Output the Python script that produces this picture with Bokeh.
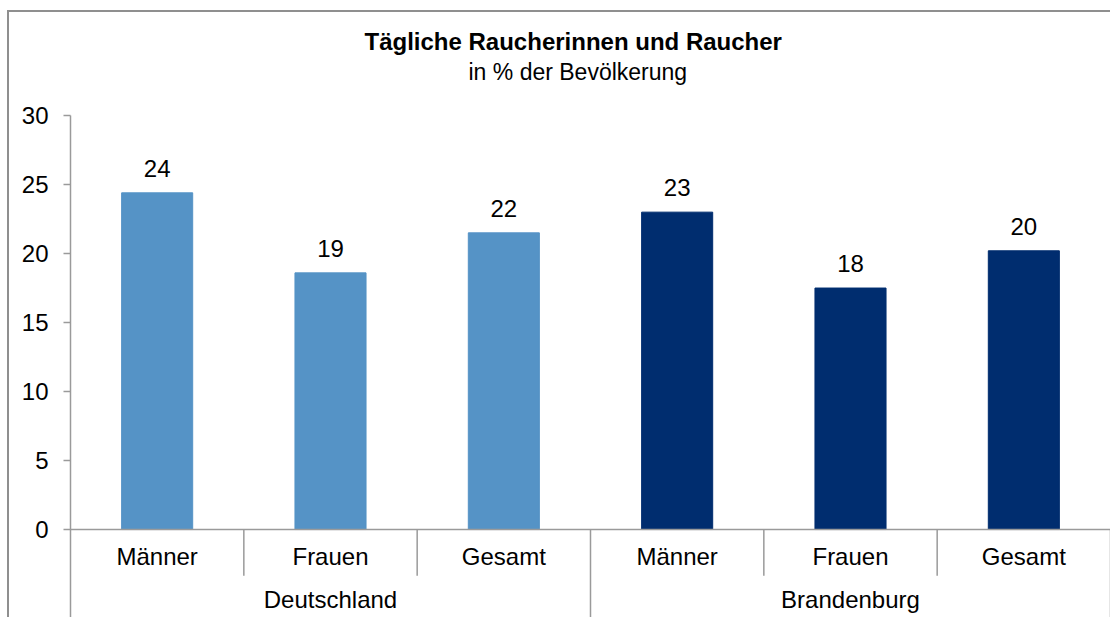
from bokeh.plotting import figure
from bokeh.models import FactorRange, Range1d, FixedTicker, ColumnDataSource, LabelSet, Title
from bokeh.core.properties import value
from bokeh.embed import file_html
from bokeh.resources import INLINE

# ---- data ----
regions = ["Deutschland", "Brandenburg"]
groups = ["Männer", "Frauen", "Gesamt"]
values_de = [24.4, 18.6, 21.5]
values_bb = [23.0, 17.5, 20.2]
labels_de = ["24", "19", "22"]
labels_bb = ["23", "18", "20"]
region_colors = ["#5593c6", "#002d6f"]
y_ticks = [0, 5, 10, 15, 20, 25, 30]
title_text = "Tägliche Raucherinnen und Raucher"
subtitle_text = "in % der Bevölkerung"

FONT = "Liberation Sans"
GRID = "#9a9a9a"
Y_BOTTOM = -6.52
Y_TOP = 32.25

factors = [(r, g) for r in regions for g in groups]
values = values_de + values_bb
labels = labels_de + labels_bb
colors = [region_colors[0]] * 3 + [region_colors[1]] * 3

src = ColumnDataSource(dict(x=factors, top=values, lab=labels, color=colors))

x_range = FactorRange(*factors, factor_padding=0, group_padding=0, range_padding=0)
y_range = Range1d(Y_BOTTOM, Y_TOP)

p = figure(width=1103, height=607, x_range=x_range, y_range=y_range,
           output_backend="svg", toolbar_location=None,
           min_border_left=61, min_border_right=2, min_border_bottom=0,
           min_border_top=72)
p.styles = {"margin-left": "7px", "margin-top": "10px",
            "border-top": "2px solid #8f8f8f", "border-left": "2px solid #8f8f8f"}
p.outline_line_color = None
p.xgrid.grid_line_color = None
p.ygrid.grid_line_color = None
p.background_fill_color = "white"
p.border_fill_color = "white"

# titles (first added is nearest the frame)
p.add_layout(Title(text=subtitle_text, align="left", offset=398, text_font=FONT,
                   text_font_size="23px", text_font_style="normal",
                   text_color="black", standoff=0), "above")
p.add_layout(Title(text=title_text, align="left", offset=294, text_font=FONT,
                   text_font_size="24px", text_font_style="bold",
                   text_color="black", standoff=4), "above")

p.vbar(x="x", top="top", bottom=0, width=0.41, color="color", source=src)

p.add_layout(LabelSet(x="x", y="top", text="lab", source=src, y_offset=16,
                      text_align="center", text_baseline="alphabetic",
                      text_font=value(FONT), text_font_size=value("24px"),
                      text_color="black"))

# separators of the category axis
short_x0 = [(r, g, 0.5) for r in regions for g in groups[:-1]]
long_x0 = [(r, groups[-1], 0.5) for r in regions]
p.segment(x0=short_x0, x1=short_x0, y0=[0] * len(short_x0), y1=[-3.35] * len(short_x0),
          line_color=GRID, line_width=1.5)
p.segment(x0=long_x0, x1=long_x0, y0=[0] * len(long_x0), y1=[Y_BOTTOM] * len(long_x0),
          line_color=GRID, line_width=1.5)

# y axis
ya = p.yaxis[0]
ya.ticker = FixedTicker(ticks=y_ticks)
ya.bounds = (Y_BOTTOM, y_ticks[-1])
ya.axis_line_color = GRID
ya.axis_line_width = 1.5
ya.major_tick_line_color = GRID
ya.major_tick_line_width = 1.5
ya.major_tick_out = 7
ya.major_tick_in = 0
ya.minor_tick_line_color = None
ya.major_label_standoff = 15
ya.major_label_text_font = FONT
ya.major_label_text_font_size = "24px"
ya.major_label_text_color = "black"

# x axis at y = 0
xa = p.xaxis[0]
xa.fixed_location = 0
xa.axis_line_color = GRID
xa.axis_line_width = 1.5
xa.major_tick_line_color = None
xa.major_tick_out = 0
xa.major_tick_in = 0
xa.minor_tick_line_color = None
xa.separator_line_color = None
xa.major_label_standoff = 13
xa.major_label_text_font = FONT
xa.major_label_text_font_size = "24px"
xa.major_label_text_color = "black"
xa.group_text_font = FONT
xa.group_text_font_size = "24px"
xa.group_text_font_style = "normal"
xa.group_text_color = "black"

open("out.html", "w").write(file_html(p, INLINE))
